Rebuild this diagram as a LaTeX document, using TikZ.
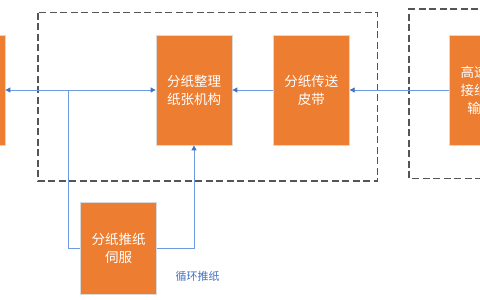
\documentclass[tikz,border=0pt]{standalone}
\usepackage{fontspec}
\newfontfamily\cjk{Noto Sans CJK SC}
\usetikzlibrary{arrows.meta}
\definecolor{boxorange}{HTML}{ED7D31}
\definecolor{linkblue}{HTML}{6E9BE0}
\definecolor{tipblue}{HTML}{4472C4}
\definecolor{dashgray}{HTML}{555555}
\tikzset{
  unit/.style={draw=black!15, line width=0.8pt, fill=boxorange, text=white, inner sep=0pt,
    minimum width=76pt, align=center, font=\cjk\fontsize{13.5}{18}\selectfont},
  link/.style={draw=linkblue, line width=0.9pt},
  arr/.style={link, -{Triangle[length=5pt,width=5pt,color=tipblue]}},
  zone/.style={draw=dashgray, line width=1.3pt, dash pattern=on 7pt off 3.5pt},
}
\begin{document}
\begin{tikzpicture}[x=1pt,y=-1pt]
\useasboundingbox (0,0) rectangle (480,300);
\clip (0,0) rectangle (480,300);
\fill[white] (0,0) rectangle (480,300);
% dashed zones
\draw[zone] (38,12.5) rectangle (377.5,181);
\draw[zone] (520,9) -- (409,9) -- (409,178.5) -- (520,178.5);
% boxes
\node[unit, minimum height=110pt] (left) at (-33,90) {};
\node[unit, minimum height=110pt] (sort) at (194,90) {分纸整理\\纸张机构};
\node[unit, minimum height=110pt] (belt) at (311.3,90) {分纸传送\\皮带};
\node[unit, minimum height=110pt, minimum width=77pt] (feed) at (487.5,90) {高速纸张\\接纸传送\\输送带};
\node[unit, minimum height=92pt] (servo) at (118.7,248) {分纸推纸\\伺服};
\coordinate (J) at (68,90);
% connectors
\draw[arr] (feed.west) -- (belt.east);
\draw[arr] (belt.west) -- (sort.east);
\draw[arr] (J) -- (sort.west);
\draw[arr] (J) -- (left.east);
\draw[link] (J) |- (servo.west);
\draw[arr] (servo.east) -| (sort.south);
\node[text=tipblue, font=\cjk\fontsize{11}{13}\selectfont] (lbl) at (197.5,276) {循环推纸};
\end{tikzpicture}
\end{document}
